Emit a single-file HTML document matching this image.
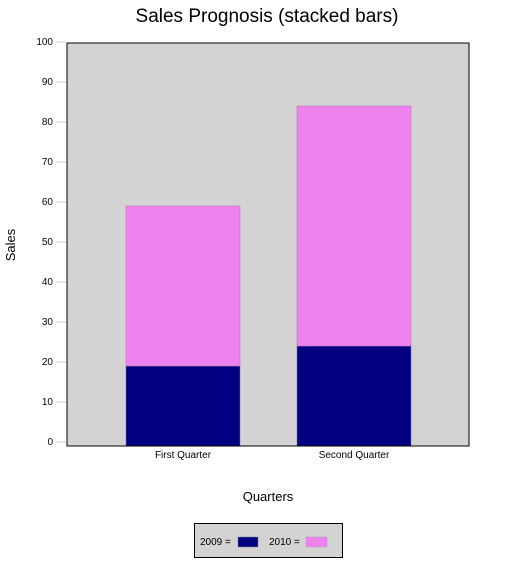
<!DOCTYPE html>
<html><head><meta charset="utf-8"><style>
body{margin:0;background:#fff;font-family:"Liberation Sans",sans-serif;}
</style></head><body>
<svg width="527" height="559" xmlns="http://www.w3.org/2000/svg" font-family="Liberation Sans, sans-serif">
<text x="267" y="22" font-size="19" text-anchor="middle">Sales Prognosis (stacked bars)</text>
<rect x="67" y="43" width="402" height="403" fill="#d3d3d3" stroke="#000" stroke-width="1"/>
<g id="yaxis"></g>
<g id="bars"></g>
<line x1="67" y1="446" x2="469" y2="446" stroke="#000"/>
<text x="15" y="245" font-size="13" text-anchor="middle" transform="rotate(-90 15 245)">Sales</text>
<text x="268" y="501" font-size="13" text-anchor="middle">Quarters</text>
<g>
<rect x="194.5" y="523.5" width="148" height="34" fill="#d3d3d3" stroke="#000"/>
<text x="200" y="545" font-size="10">2009 =</text>
<rect x="238" y="537" width="20" height="10" fill="#000080" stroke="#888" stroke-width="0.5"/>
<text x="269" y="545" font-size="10">2010 =</text>
<rect x="306" y="537" width="21" height="10" fill="#ee82ee" stroke="#aaa" stroke-width="0.5"/>
</g>
</svg>
<script>
const categories = ["First Quarter", "Second Quarter"];
const series2009 = [19, 24];
const series2010 = [40, 60];
const yTicks = [0,10,20,30,40,50,60,70,80,90,100];
const NS="http://www.w3.org/2000/svg";
const y = v => 442 - v*4;
const bandX = i => 126 + i*171;
const barW = 114;
function mk(tag, attrs, parent){const e=document.createElementNS(NS,tag);for(const k in attrs)e.setAttribute(k,attrs[k]);parent.appendChild(e);return e;}
const ya=document.getElementById('yaxis');
yTicks.forEach(t=>{
  const l=mk('line',{x1:56,x2:66,y1:y(t),y2:y(t),stroke:'#ccc'},ya);
  
  
  const tx=mk('text',{x:53,y:y(t)+3,'font-size':10,'text-anchor':'end'},ya);
  tx.textContent=t;
  
  
});
const bg=document.getElementById('bars');
categories.forEach((c,i)=>{
  const x=bandX(i);
  const a=series2009[i], b=series2010[i];
  const r1=mk('rect',{x:x,y:y(a),width:barW,height:446-y(a),fill:'#000080',stroke:'#7070b0','stroke-width':0.5},bg);
  
  
  const r2=mk('rect',{x:x,y:y(a+b),width:barW,height:b*4,fill:'#ee82ee',stroke:'#b070b0','stroke-width':0.5},bg);
  
  
  const tx=mk('text',{x:x+barW/2,y:458,'font-size':10,'text-anchor':'middle'},bg);
  tx.textContent=c;
  
  
});
</script>
</body></html>
